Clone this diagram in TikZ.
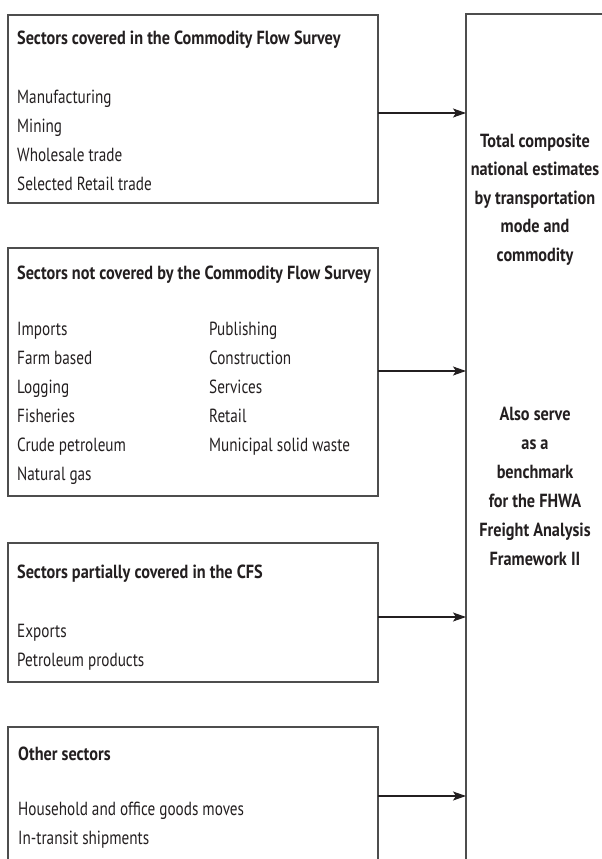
\documentclass[tikz,border=0pt]{standalone}
\usepackage{fontspec}
\setmainfont{PT Sans}[FakeStretch=0.8, BoldFeatures={FakeStretch=0.855}]
\usetikzlibrary{arrows.meta}
\definecolor{ink}{HTML}{231F20}
\definecolor{frame}{HTML}{4D4D4D}
\tikzset{
  box/.style={draw=frame, line width=1.2pt, inner sep=0pt, outer sep=0pt, rectangle},
  hd/.style={anchor=base west, inner sep=0pt, text=ink, font=\fontsize{19}{21}\selectfont\bfseries},
  it/.style={anchor=base west, inner sep=0pt, text=ink, font=\fontsize{19}{21}\selectfont},
  rt/.style={anchor=base, inner sep=0pt, text=ink, font=\fontsize{19}{21}\selectfont\bfseries},
  arr/.style={draw=ink, line width=1.2pt, -{Stealth[length=13pt,width=9pt,inset=3pt]}}
}
\begin{document}
\begin{tikzpicture}[x=1pt,y=-1pt]
\useasboundingbox (0,0) rectangle (602,859);
\clip (0,0) rectangle (602,859);
% boxes
\node[box, minimum width=370pt, minimum height=188pt] (b1) at (193,109) {};
\node[box, minimum width=370pt, minimum height=248pt] (b2) at (193,372) {};
\node[box, minimum width=370pt, minimum height=139pt] (b3) at (193,612.5) {};
\node[box, minimum width=370pt, minimum height=200pt] (b4) at (193,827) {};
\node[box, minimum width=274pt, minimum height=886pt] (R) at (603,457) {};
% box 1
\node[hd] (h1) at (17,45) {Sectors covered in the Commodity Flow Survey};
\foreach \t [count=\i] in {Manufacturing, Mining, Wholesale trade, Selected Retail trade}
  \node[it] (c1-\i) at (17,{74+29*\i}) {\t};
% box 2
\node[hd] (h2) at (17,279) {Sectors not covered by the Commodity Flow Survey};
\foreach \t [count=\i] in {Imports, Farm based, Logging, Fisheries, Crude petroleum, Natural gas}
  \node[it] (c2a-\i) at (17,{306+29*\i}) {\t};
\foreach \t [count=\i] in {Publishing, Construction, Services, Retail, Municipal solid waste}
  \node[it] (c2b-\i) at (209,{306+29*\i}) {\t};
% box 3
\node[hd] (h3) at (17,578) {Sectors partially covered in the CFS};
\foreach \t [count=\i] in {Exports, Petroleum products}
  \node[it] (c3-\i) at (17,{608+29*\i}) {\t};
% box 4
\node[hd] (h4) at (18,760) {Other sectors};
\foreach \t [count=\i] in {Household and office goods moves, In-transit shipments}
  \node[it] (c4-\i) at (18,{786+29*\i}) {\t};
% right texts
\foreach \t [count=\i] in {Total composite, national estimates, by transportation, mode and, commodity}
  \node[rt] (r1-\i) at (535,{118.5+28.6*\i}) {\t};
\foreach \t [count=\i] in {Also serve, as a, benchmark, for the FHWA, Freight Analysis, Framework II}
  \node[rt] (r2-\i) at (535,{391+29*\i}) {\t};
% arrows
\coordinate (a1) at (0,113);
\coordinate (a2) at (0,371);
\coordinate (a3) at (0,617);
\coordinate (a4) at (0,796);
\draw[arr] (b1.east |- a1) -- (R.west |- a1);
\draw[arr] (b2.east |- a2) -- (R.west |- a2);
\draw[arr] (b3.east |- a3) -- (R.west |- a3);
\draw[arr] (b4.east |- a4) -- (R.west |- a4);
\end{tikzpicture}
\end{document}
